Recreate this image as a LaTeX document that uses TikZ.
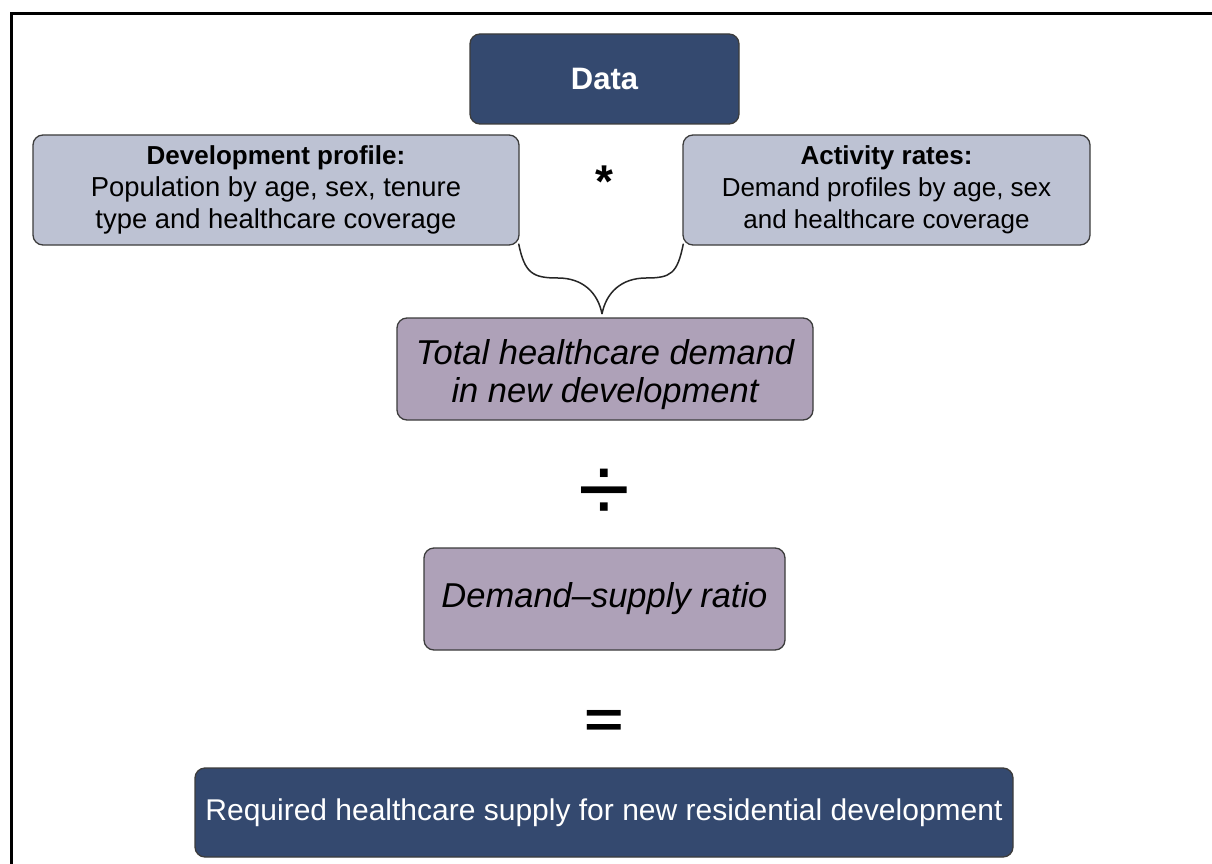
\documentclass[tikz,border=0pt]{standalone}
\usepackage{fontspec}
\setmainfont{Liberation Sans}
\usetikzlibrary{calc}
\definecolor{navy}{HTML}{34496F}
\definecolor{pale}{HTML}{BDC2D3}
\definecolor{mauve}{HTML}{AEA1B8}
\definecolor{edge}{HTML}{3C3C3C}
\tikzset{
  box/.style={draw=edge, line width=1.3pt, rounded corners=10pt, inner sep=0pt, align=center},
  darkbox/.style={box, fill=navy, text=white},
  palebox/.style={box, fill=pale, text=black, font=\fontsize{26}{32}\selectfont},
  mauvebox/.style={box, fill=mauve, text=black, font=\fontsize{34.5}{38}\selectfont\itshape},
  op/.style={inner sep=0pt, text=black},
  bracestyle/.style={draw=black!85, line width=1.5pt}
}
\begin{document}
\begin{tikzpicture}[x=1pt,y=-1pt]
\useasboundingbox (0,0) rectangle (1212,864);
\fill[white] (0,0) rectangle (1212,864);
% frame (clipped at right and bottom)
\draw[line width=3pt] (11,864) -- (11,14) -- (1212,14);

\node[darkbox, minimum width=269pt, minimum height=90pt, font=\fontsize{31}{36}\selectfont\bfseries] (data) at (604.5,79) {Data};

\node[palebox, minimum width=486pt, minimum height=110pt] (dev) at (276,190)
  {\textbf{Development profile:}\\{\fontsize{27.4}{32}\selectfont Population by age, sex, tenure}\\{\fontsize{27.4}{32}\selectfont type and healthcare coverage}};
\node[palebox, minimum width=407pt, minimum height=110pt] (act) at (886.5,190)
  {\textbf{Activity rates:}\\Demand profiles by age, sex\\and healthcare coverage};

\node[op, font=\fontsize{46}{46}\selectfont\bfseries] (star) at (604,182) {*};

\node[mauvebox, minimum width=416pt, minimum height=102pt] (total) at (605,369)
  {\rule{0pt}{36pt}Total healthcare demand\\in new development};

\coordinate (tip) at (602,314);
\coordinate (lm) at (558,278);
\coordinate (rm) at (646,278);
\draw[bracestyle] ($(dev.south east)+(-1,-2)$) .. controls +(6,30) and (533,278) .. (lm)
  .. controls (583,278) and (598,293) .. (tip);
\draw[bracestyle] ($(act.south west)+(1,-2)$) .. controls +(-6,30) and (671,278) .. (rm)
  .. controls (621,278) and (606,293) .. (tip);

\node[op, font=\fontsize{94}{94}\selectfont] (div) at (604.5,495) {÷};

\node[mauvebox, minimum width=361pt, minimum height=102pt] (ratio) at (604.5,599)
  {Demand–supply ratio};

\node[op, font=\fontsize{52}{52}\selectfont\bfseries] (eq) at (604,724) {\scalebox{1.3}[1]{=}};

\node[darkbox, minimum width=818pt, minimum height=89pt, font=\fontsize{30}{34}\selectfont] (req) at (604,812.5)
  {Required healthcare supply for new residential development};
\end{tikzpicture}
\end{document}
